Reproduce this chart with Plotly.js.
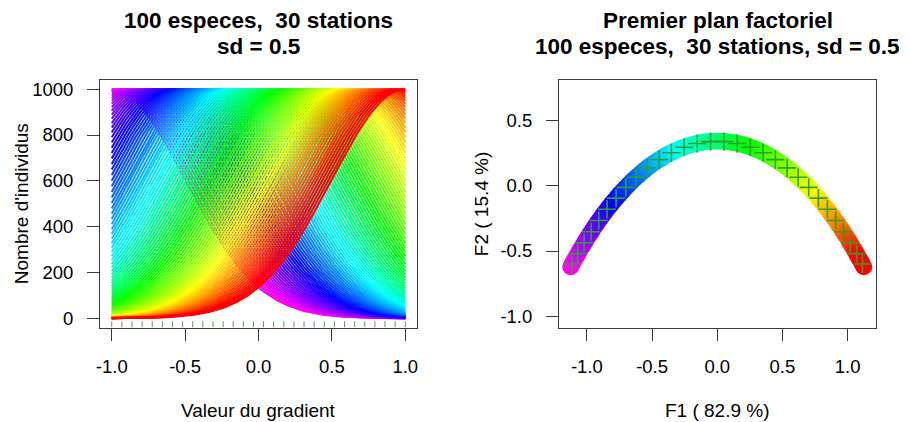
<!DOCTYPE html>
<html><head><meta charset="utf-8">
<script src="https://cdn.plot.ly/plotly-3.0.1.min.js"></script>
<style>html,body{margin:0;padding:0;background:#fff}#chart{width:908px;height:422px}</style>
</head><body><div id="chart"></div>
<script>
// ---- data ----
const stations = [-1.0000,-0.9310,-0.8621,-0.7931,-0.7241,-0.6552,-0.5862,-0.5172,-0.4483,-0.3793,
  -0.3103,-0.2414,-0.1724,-0.1034,-0.0345,0.0345,0.1034,0.1724,0.2414,0.3103,
  0.3793,0.4483,0.5172,0.5862,0.6552,0.7241,0.7931,0.8621,0.9310,1.0000];
const speciesOptima = [-1.0000,-0.9798,-0.9596,-0.9394,-0.9192,-0.8990,-0.8788,-0.8586,-0.8384,-0.8182,
  -0.7980,-0.7778,-0.7576,-0.7374,-0.7172,-0.6970,-0.6768,-0.6566,-0.6364,-0.6162,
  -0.5960,-0.5758,-0.5556,-0.5354,-0.5152,-0.4949,-0.4747,-0.4545,-0.4343,-0.4141,
  -0.3939,-0.3737,-0.3535,-0.3333,-0.3131,-0.2929,-0.2727,-0.2525,-0.2323,-0.2121,
  -0.1919,-0.1717,-0.1515,-0.1313,-0.1111,-0.0909,-0.0707,-0.0505,-0.0303,-0.0101,
  0.0101,0.0303,0.0505,0.0707,0.0909,0.1111,0.1313,0.1515,0.1717,0.1919,
  0.2121,0.2323,0.2525,0.2727,0.2929,0.3131,0.3333,0.3535,0.3737,0.3939,
  0.4141,0.4343,0.4545,0.4747,0.4949,0.5152,0.5354,0.5556,0.5758,0.5960,
  0.6162,0.6364,0.6566,0.6768,0.6970,0.7172,0.7374,0.7576,0.7778,0.7980,
  0.8182,0.8384,0.8586,0.8788,0.8990,0.9192,0.9394,0.9596,0.9798,1.0000];
const responseSD = 0.5;
const maxAbundance = 1000;
const gradientTicks = [-1, -0.5, 0, 0.5, 1];
const gradientTickLabels = ["-1.0", "-0.5", "0.0", "0.5", "1.0"];
const abundanceTicks = [0, 200, 400, 600, 800, 1000];
const abundanceTickLabels = ["0", "200", "400", "600", "800", "1000"];
const f1Ticks = [-1, -0.5, 0, 0.5, 1];
const f1TickLabels = ["-1.0", "-0.5", "0.0", "0.5", "1.0"];
const f2Ticks = [-1, -0.5, 0, 0.5];
const f2TickLabels = ["-1.0", "-0.5", "0.0", "0.5"];
const axisInertiaPct = [82.9, 15.4];

// ---- helpers ----
function response(x, mu) { return maxAbundance * Math.exp(-((x - mu) * (x - mu)) / (2 * responseSD * responseSD)); }
function hsv2rgb(h, s, v) {
  const i = Math.floor(h * 6), f = h * 6 - i, p = v * (1 - s), q = v * (1 - f * s), t = v * (1 - (1 - f) * s);
  let r, g, b;
  switch (((i % 6) + 6) % 6) { case 0: r=v;g=t;b=p;break; case 1: r=q;g=v;b=p;break; case 2: r=p;g=v;b=t;break;
    case 3: r=p;g=q;b=v;break; case 4: r=t;g=p;b=v;break; default: r=v;g=p;b=q; }
  return 'rgb(' + Math.round(r*255) + ',' + Math.round(g*255) + ',' + Math.round(b*255) + ')';
}
const nSp = speciesOptima.length;
// colour ramp magenta -> blue -> cyan -> green -> yellow -> red along the species order
const HUE_START = 0.85, RED_INDEX = 96;
const speciesColors = speciesOptima.map((m, j) => hsv2rgb(Math.max(0, HUE_START * (1 - j / RED_INDEX)), 1, 1));

// ---- correspondence analysis of the station x species table ----
function jacobiEigen(A) {
  const n = A.length, a = A.map(r => r.slice());
  const v = Array.from({length: n}, (_, i) => Array.from({length: n}, (_, j) => i === j ? 1 : 0));
  for (let sweep = 0; sweep < 100; sweep++) {
    let off = 0;
    for (let p = 0; p < n; p++) for (let q = p + 1; q < n; q++) off += a[p][q] * a[p][q];
    if (off < 1e-24) break;
    for (let p = 0; p < n; p++) for (let q = p + 1; q < n; q++) {
      if (Math.abs(a[p][q]) < 1e-300) continue;
      const theta = (a[q][q] - a[p][p]) / (2 * a[p][q]);
      const t = (theta >= 0 ? 1 : -1) / (Math.abs(theta) + Math.sqrt(theta * theta + 1));
      const c = 1 / Math.sqrt(t * t + 1), s = t * c;
      for (let k = 0; k < n; k++) { const x = a[k][p], y = a[k][q]; a[k][p] = c*x - s*y; a[k][q] = s*x + c*y; }
      for (let k = 0; k < n; k++) { const x = a[p][k], y = a[q][k]; a[p][k] = c*x - s*y; a[q][k] = s*x + c*y; }
      for (let k = 0; k < n; k++) { const x = v[k][p], y = v[k][q]; v[k][p] = c*x - s*y; v[k][q] = s*x + c*y; }
    }
  }
  return {values: a.map((r, i) => r[i]), vectors: v};
}
const table = stations.map(x => speciesOptima.map(m => Math.round(response(x, m))));
const nSt = stations.length;
let total = 0; table.forEach(r => r.forEach(v => total += v));
const rw = table.map(r => r.reduce((s, v) => s + v, 0) / total);
const cw = speciesOptima.map((_, j) => table.reduce((s, r) => s + r[j], 0) / total);
const S = table.map((r, i) => r.map((v, j) => (v / total - rw[i] * cw[j]) / Math.sqrt(rw[i] * cw[j])));
const M = Array.from({length: nSt}, (_, i) => Array.from({length: nSt}, (_, k) => {
  let s = 0; for (let j = 0; j < nSp; j++) s += S[i][j] * S[k][j]; return s; }));
const eig = jacobiEigen(M);
const order = eig.values.map((v, i) => i).sort((a, b) => eig.values[b] - eig.values[a]);
const traceM = eig.values.reduce((s, v) => s + v, 0);
function axisScores(k) {
  const idx = order[k], lam = eig.values[idx];
  const u = eig.vectors.map(r => r[idx]);
  const rowC = u.map((ui, i) => ui * Math.sqrt(lam) / Math.sqrt(rw[i]));
  const colC = speciesOptima.map((_, j) => { let s = 0; for (let i = 0; i < nSt; i++) s += S[i][j] * u[i]; return s / Math.sqrt(cw[j]); });
  const sg = colC[0] < 0 ? 1 : -1;
  return {rows: rowC.map(v => v * sg), cols: colC.map(v => v * sg), pct: 100 * lam / traceM};
}
const ax1 = axisScores(0), ax2 = axisScores(1);

// ---- traces ----
const traces = [];
const gridX = []; for (let k = 0; k <= 200; k++) gridX.push(-1 + 2 * k / 200);
speciesOptima.forEach((mu, j) => {
  traces.push({type: 'scatter', mode: 'lines', x: gridX, y: gridX.map(x => response(x, mu)),
    line: {color: speciesColors[j], width: 2}, xaxis: 'x', yaxis: 'y', hoverinfo: 'skip', showlegend: false});
});
const rugX = [], rugY = [];
stations.forEach(s => { rugX.push(s, s, null); rugY.push(-40, -13, null); });
traces.push({type: 'scatter', mode: 'lines', x: rugX, y: rugY, line: {color: 'rgba(0,100,0,0.65)', width: 1},
  xaxis: 'x', yaxis: 'y', showlegend: false, hoverinfo: 'skip'});
traces.push({type: 'scatter', mode: 'markers', x: ax1.cols, y: ax2.cols,
  marker: {size: 17, color: speciesColors, line: {width: 0}}, xaxis: 'x2', yaxis: 'y2', showlegend: false, hoverinfo: 'skip'});
traces.push({type: 'scatter', mode: 'markers', x: ax1.rows, y: ax2.rows,
  marker: {size: 13, symbol: 'cross-thin-open', line: {width: 1.6, color: '#032b03'}}, xaxis: 'x2', yaxis: 'y2', showlegend: false, hoverinfo: 'skip'});

const FONT = 'Liberation Sans, Arial, sans-serif';
const axBase = {showgrid: false, zeroline: false, showline: true, mirror: true, linecolor: '#3a3a3a', linewidth: 1,
  ticks: 'outside', ticklen: 12, tickcolor: '#3a3a3a', tickwidth: 1, tickfont: {family: FONT, size: 18.5, color: '#000'},
  tickmode: 'array', fixedrange: true, ticklabelstandoff: 10};
const W = 908, H = 422;
const px = v => v / W, py = v => 1 - v / H;
const ann = (text, x, y, opts) => Object.assign({text, x: px(x), y: py(y), xref: 'paper', yref: 'paper', showarrow: false,
  xanchor: 'center', yanchor: 'middle', font: {family: FONT, size: 19, color: '#000'}}, opts || {});
const titleFont = {family: FONT, size: 22.5, color: '#000'};
const layout = {
  width: W, height: H, margin: {l: 0, r: 0, t: 0, b: 0}, paper_bgcolor: '#fff', plot_bgcolor: '#fff', showlegend: false,
  xaxis: Object.assign({}, axBase, {domain: [px(100), px(417)], range: [-1.08, 1.08], tickvals: gradientTicks, ticktext: gradientTickLabels, anchor: 'y'}),
  yaxis: Object.assign({}, axBase, {domain: [py(327.5), py(80)], range: [-40, 1040], tickvals: abundanceTicks, ticktext: abundanceTickLabels, anchor: 'x'}),
  xaxis2: Object.assign({}, axBase, {domain: [px(559), px(876)], range: [-1.214, 1.218], tickvals: f1Ticks, ticktext: f1TickLabels, anchor: 'y2'}),
  yaxis2: Object.assign({}, axBase, {domain: [py(327.5), py(80)], range: [-1.087, 0.812], tickvals: f2Ticks, ticktext: f2TickLabels, anchor: 'x2'}),
  annotations: [
    ann('<b>100 especes,\u00a0\u00a030 stations</b>', 258, 20, {font: titleFont}),
    ann('<b>sd = 0.5</b>', 258, 47, {font: titleFont}),
    ann('<b>Premier plan factoriel</b>', 717.5, 20, {font: titleFont}),
    ann('<b>100 especes,\u00a0\u00a030 stations, sd = 0.5</b>', 717.5, 47, {font: titleFont}),
    ann('Valeur du gradient', 258.4, 410),
    ann('Nombre d\'individus', 21.7, 203.5, {textangle: -90}),
    ann('F1 ( ' + axisInertiaPct[0].toFixed(1) + ' %)', 717, 410),
    ann('F2 ( ' + axisInertiaPct[1].toFixed(1) + ' %)', 481.7, 203.5, {textangle: -90})
  ]
};
Plotly.newPlot('chart', traces, layout, {staticPlot: true, displayModeBar: false});
</script></body></html>
